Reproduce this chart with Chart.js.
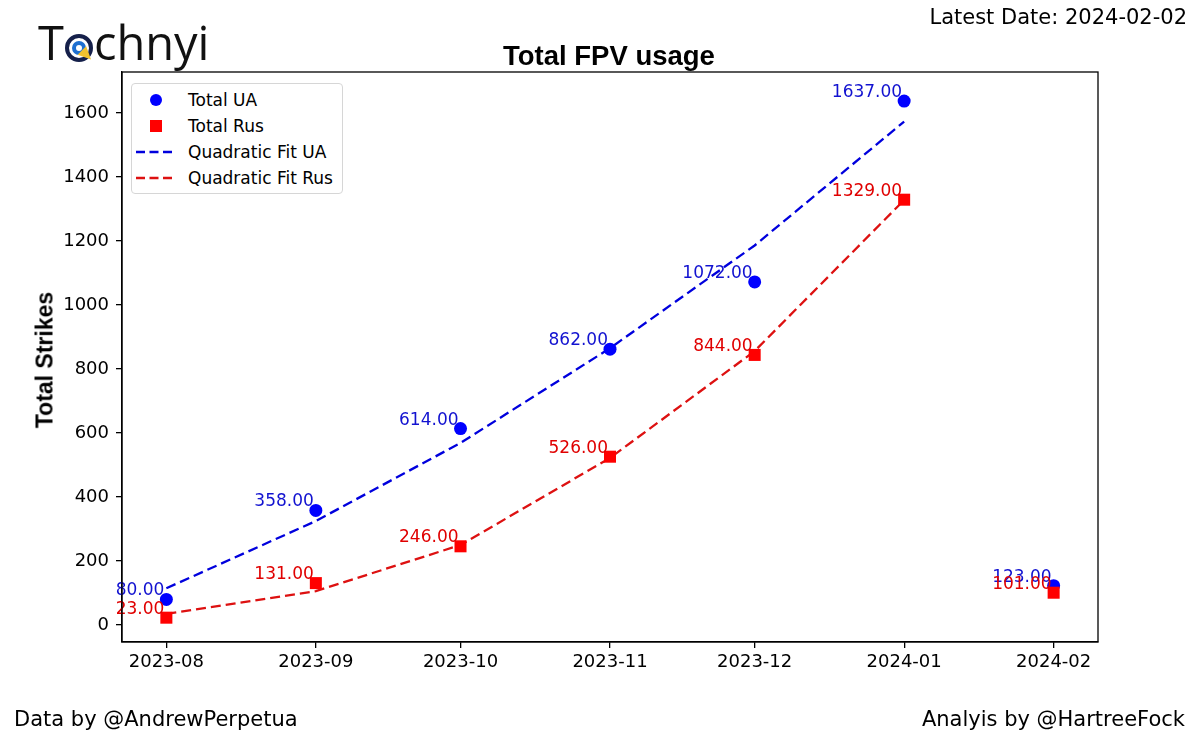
<!DOCTYPE html>
<html>
<head>
<meta charset="utf-8">
<script src="https://cdn.jsdelivr.net/npm/chart.js@4.4.1/dist/chart.umd.min.js"></script>
<style>
  body { margin: 0; background: #fff; font-family: "DejaVu Sans", sans-serif; }
  #wrap { position: relative; width: 1200px; height: 746px; overflow: hidden; }
  #chart { position: absolute; left: 0; top: 0; }
  .txt { position: absolute; color: #000; white-space: nowrap; }
  #logo { left: 38px; top: 10px; font-family: "Open Sans", sans-serif; font-size: 47px; color: #111; }
  #logo .ico { display: inline-block; position: relative; width: 28px; height: 28px; border-radius: 50%;
    border: 4px solid #15204a; box-sizing: border-box; vertical-align: -2px; margin: 0 1px; background: #fff; }
  #logo .ico::before { content: ""; position: absolute; left: 3px; top: 3px; width: 14px; height: 14px; border-radius: 50%;
    border: 4px solid #1e6fd0; box-sizing: border-box; }
  #logo .ico::after { content: ""; position: absolute; left: 11px; top: 11px; width: 0; height: 0;
    border-left: 13px solid #f2c230; border-top: 6px solid transparent; border-bottom: 6px solid transparent; transform: rotate(45deg); }
  #legend { position: absolute; left: 131px; top: 83px; width: 212px; height: 111px; border: 1px solid #d6d6d6;
    border-radius: 4px; background: #fff; box-sizing: border-box; font-size: 17px; }
  #legend .row { position: absolute; left: 0; height: 26px; line-height: 26px; }
  #legend .row span { position: absolute; left: 56px; white-space: nowrap; }
  #legend svg { position: absolute; left: 0; top: 0; }
</style>
</head>
<body>
<div id="wrap">
  <canvas id="chart" width="1200" height="746"></canvas>
  <div class="txt" id="logo">T<span class="ico"></span>chnyi</div>
  <div class="txt" style="left:503px; top:40px; font-family:'Liberation Sans',Arial,sans-serif; font-weight:bold; font-size:27.5px;">Total FPV usage</div>
  <div class="txt" style="right:13px; top:5px; font-size:21px;">Latest Date: 2024-02-02</div>
  <div class="txt" style="left:45px; top:360px; transform:translate(-50%,-50%) rotate(-90deg); font-family:'Liberation Sans',Arial,sans-serif; font-weight:bold; font-size:23px;">Total Strikes</div>
  <div class="txt" style="left:14px; top:707px; font-size:21px;">Data by @AndrewPerpetua</div>
  <div class="txt" style="right:15px; top:707px; font-size:21px;">Analyis by @HartreeFock</div>
  <div id="legend">
    <div class="row" style="top:3px;"><svg width="50" height="26"><circle cx="24" cy="13" r="6" fill="#0000ff"/></svg><span>Total UA</span></div>
    <div class="row" style="top:29px;"><svg width="50" height="26"><rect x="18" y="7" width="12" height="12" fill="#ff0000"/></svg><span>Total Rus</span></div>
    <div class="row" style="top:55px;"><svg width="50" height="26"><line x1="4" y1="13" x2="44" y2="13" stroke="#0000dd" stroke-width="2.3" stroke-dasharray="9,4.5"/></svg><span>Quadratic Fit UA</span></div>
    <div class="row" style="top:81px;"><svg width="50" height="26"><line x1="4" y1="13" x2="44" y2="13" stroke="#dd1111" stroke-width="2.3" stroke-dasharray="9,4.5"/></svg><span>Quadratic Fit Rus</span></div>
  </div>
</div>
<script>
// Data
const months = ["2023-08", "2023-09", "2023-10", "2023-11", "2023-12", "2024-01", "2024-02"];
const totalUA = [80, 358, 614, 862, 1072, 1637, 123];
const totalRus = [23, 131, 246, 526, 844, 1329, 101];
// fit curves are only drawn for Aug..Jan
const fitUA = [115, 325, 569, 865, 1186, 1573];
const fitRus = [35, 106, 250, 522, 856, 1328];
const yTicks = [0, 200, 400, 600, 800, 1000, 1200, 1400, 1600];

// x positions as days since first month (matplotlib date axis)
const startDate = new Date(months[0] + "-01T00:00:00Z");
const dayOf = m => Math.round((new Date(m + "-01T00:00:00Z") - startDate) / 86400000);
const xDays = months.map(dayOf);
const toPoints = vals => vals.map((v, i) => ({ x: xDays[i], y: v }));

const xSpan = xDays[xDays.length - 1];
const xPad = xSpan * 0.05;

const pointLabels = {
  id: "pointLabels",
  afterDatasetsDraw(chart) {
    const ctx = chart.ctx;
    ctx.save();
    ctx.font = "17px 'DejaVu Sans', sans-serif";
    ctx.textAlign = "right";
    ctx.textBaseline = "alphabetic";
    [0, 1].forEach(di => {
      const ds = chart.data.datasets[di];
      const meta = chart.getDatasetMeta(di);
      ctx.fillStyle = ds.labelColor;
      meta.data.forEach((pt, i) => {
        ctx.fillText(ds.data[i].y.toFixed(2), pt.x - 2, pt.y - 4);
      });
    });
    ctx.restore();
  }
};

const frame = {
  id: "frame",
  afterDraw(chart) {
    const a = chart.chartArea;
    const ctx = chart.ctx;
    ctx.save();
    ctx.strokeStyle = "#000";
    ctx.lineWidth = 1.3;
    ctx.strokeRect(a.left, a.top, a.right - a.left, a.bottom - a.top);
    ctx.restore();
  }
};

const chart = new Chart(document.getElementById("chart").getContext("2d"), {
  type: "scatter",
  data: {
    datasets: [
      { label: "Total UA", data: toPoints(totalUA), pointStyle: "circle", pointRadius: 6.5,
        backgroundColor: "#0000ff", borderColor: "#0000ff", borderWidth: 0, labelColor: "#1212d0", order: 1 },
      { label: "Total Rus", data: toPoints(totalRus), pointStyle: "rect", pointRadius: 8.5,
        backgroundColor: "#ff0000", borderColor: "#ff0000", borderWidth: 0, labelColor: "#e00000", order: 0 },
      { label: "Quadratic Fit UA", data: toPoints(fitUA), showLine: true, pointRadius: 0,
        borderColor: "#0000dd", borderWidth: 2.3, borderDash: [10, 5], order: 2 },
      { label: "Quadratic Fit Rus", data: toPoints(fitRus), showLine: true, pointRadius: 0,
        borderColor: "#dd1111", borderWidth: 2.3, borderDash: [10, 5], order: 2 }
    ]
  },
  options: {
    responsive: false,
    animation: false,
    devicePixelRatio: 1,
    layout: { padding: { top: 72, right: 102, left: 0, bottom: 0 } },
    plugins: { legend: { display: false }, tooltip: { enabled: false } },
    scales: {
      x: {
        type: "linear",
        min: -xPad,
        max: xSpan + xPad,
        afterBuildTicks: s => { s.ticks = xDays.map(v => ({ value: v })); },
        afterFit: s => { s.height = 104; },
        ticks: {
          color: "#000",
          font: { family: "'DejaVu Sans', sans-serif", size: 18 },
          padding: 4,
          maxRotation: 0,
          callback: v => months[xDays.indexOf(v)]
        },
        grid: { drawOnChartArea: false, drawTicks: true, tickLength: 6, color: "#000", lineWidth: 1.3 },
        border: { display: true, color: "#000", width: 1.3 }
      },
      y: {
        min: -53,
        max: 1728,
        afterBuildTicks: s => { s.ticks = yTicks.map(v => ({ value: v })); },
        afterFit: s => { s.width = 122; },
        ticks: {
          color: "#000",
          font: { family: "'DejaVu Sans', sans-serif", size: 18 },
          padding: 7,
          callback: v => String(v)
        },
        grid: { drawOnChartArea: false, drawTicks: true, tickLength: 6, color: "#000", lineWidth: 1.3 },
        border: { display: true, color: "#000", width: 1.3 }
      }
    }
  },
  plugins: [pointLabels, frame]
});
</script>
</body>
</html>
